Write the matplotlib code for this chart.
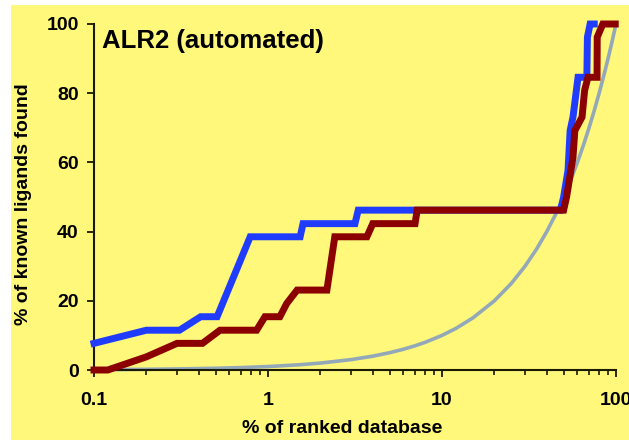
import matplotlib
matplotlib.use("Agg")
import matplotlib.pyplot as plt
from matplotlib.patches import Rectangle
from matplotlib.ticker import LogLocator, FixedLocator

# data (percent of ranked database vs percent of ligands found)
blue_x = [0.1, 0.2, 0.31, 0.41, 0.51, 0.79, 1.53, 1.59, 3.16, 3.3, 48, 50, 53,
          54.5, 56.6, 60.5, 68, 68.5, 71, 75]
blue_y = [7.7, 11.5, 11.5, 15.4, 15.4, 38.5, 38.5, 42.3, 42.3, 46.2, 46.2, 50,
          57.7, 69.2, 73.1, 84.6, 84.6, 96.2, 100, 100]

red_x = [0.1, 0.12, 0.2, 0.3, 0.42, 0.53, 0.86, 0.96, 1.17, 1.28, 1.47, 2.18,
         2.42, 3.7, 4.0, 7.0, 7.2, 50, 52, 56.6, 58, 63.8, 66, 69, 77.8, 78,
         84, 99]
red_y = [0, 0, 3.8, 7.7, 7.7, 11.5, 11.5, 15.4, 15.4, 19.2, 23.1, 23.1,
         38.5, 38.5, 42.3, 42.3, 46.2, 46.2, 50, 61.5, 69.2, 73.1, 80.8, 84.6,
         84.6, 96.2, 100, 100]

# random selection reference (y = x)
rand_x = [0.1, 0.15, 0.2, 0.3, 0.5, 0.7, 1, 1.5, 2, 3, 4, 5, 6, 7, 8, 10, 12,
          15, 20, 25, 30, 35, 40, 45, 50, 55, 60, 65, 70, 75, 80, 85, 90, 95, 100]
rand_y = [0.1, 0.15, 0.2, 0.3, 0.5, 0.7, 1, 1.5, 2, 3, 4, 5, 6, 7, 8, 10, 12,
          15, 20, 25, 30, 35, 40, 45, 50, 55, 60, 65, 70, 75, 80, 85, 90, 95, 100]

x_ticks = [0.1, 1, 10, 100]
x_labels = ["0.1", "1", "10", "100"]
y_ticks = [0, 20, 40, 60, 80, 100]

yellow = "#fff87a"
plt.rcParams['font.family'] = ['Liberation Sans', 'DejaVu Sans']
plt.rcParams['font.weight'] = 'bold'

fig = plt.figure(figsize=(6.29, 4.40), dpi=100, facecolor="white")
fig.patches.append(Rectangle((11/629, 0), 1, 1 - 5/440, transform=fig.transFigure,
                             facecolor=yellow, edgecolor="none", zorder=-1))
ax = fig.add_axes([94/629, 1 - 370/440, 522/629, 346/440])
ax.set_facecolor("none")

ax.plot(rand_x, rand_y, color="#93a8b8", lw=2.6, clip_on=False, zorder=2)
ax.plot(blue_x, blue_y, color="#1f3cff", lw=5, clip_on=False, zorder=3,
        solid_joinstyle="miter")
ax.plot(red_x, red_y, color="#8b0000", lw=5, clip_on=False, zorder=4,
        solid_joinstyle="miter")

ax.set_xscale("log")
ax.set_xlim(0.1, 100)
ax.set_ylim(0, 100)
ax.xaxis.set_major_locator(FixedLocator(x_ticks))
ax.set_xticklabels(x_labels)
ax.xaxis.set_minor_locator(LogLocator(base=10, subs=range(2, 10)))
ax.xaxis.set_minor_formatter(plt.NullFormatter())
ax.set_yticks(y_ticks)

for s in ["top", "right"]:
    ax.spines[s].set_visible(False)
for s in ["left", "bottom"]:
    ax.spines[s].set_linewidth(1.5)
    ax.spines[s].set_color("#1a1a00")

ax.tick_params(axis="both", which="major", labelsize=14, width=1.3,
               color="#1a1a00", labelcolor="black")
ax.tick_params(axis="y", which="major", length=5, pad=6)
ax.tick_params(axis="x", which="major", length=5, pad=11)
ax.tick_params(axis="x", which="minor", length=3.5, width=1.2, color="#1a1a00")

ax.set_xlabel("% of ranked database", fontsize=14, fontweight="bold")
ax.set_ylabel("% of known ligands found", fontsize=14, fontweight="bold")
ax.xaxis.set_label_coords(0.475, -0.145)
ax.yaxis.set_label_coords(-0.118, 0.48)

ax.text(0.015, 0.985, "ALR2 (automated)", transform=ax.transAxes,
        fontsize=18.5, fontweight="bold", ha="left", va="top")

fig.savefig("out.png", dpi=100, facecolor=fig.get_facecolor())
